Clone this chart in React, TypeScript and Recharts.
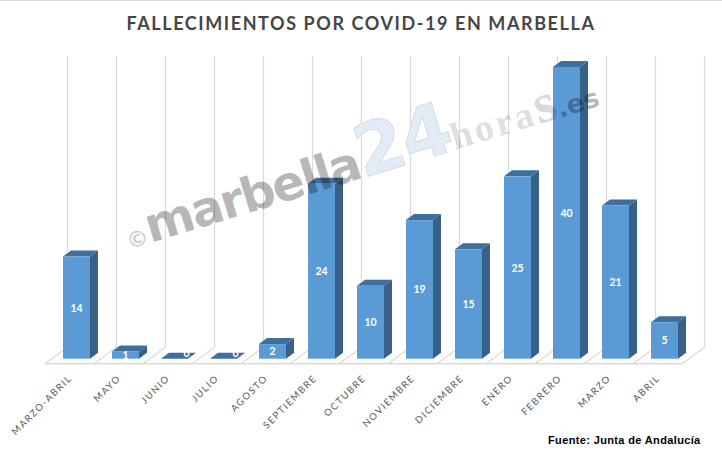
import { BarChart, Bar, XAxis, YAxis, LabelList } from 'recharts';

const categories = ['MARZO-ABRIL', 'MAYO', 'JUNIO', 'JULIO', 'AGOSTO', 'SEPTIEMBRE', 'OCTUBRE', 'NOVIEMBRE', 'DICIEMBRE', 'ENERO', 'FEBRERO', 'MARZO', 'ABRIL'];
const deaths = [14, 1, 0, 0, 2, 24, 10, 19, 15, 25, 40, 21, 5];

const chartData = categories.map((month, i) => ({ month, deaths: deaths[i] }));

const FRONT = '#5b9bd5';
const SIDE = '#376189';
const TOP = '#3e6f9e';
const WALL = '#d9d9d9';
const DEPTH_X = 8;
const DEPTH_Y = 6;

// columna 3D: cara frontal, lateral y superior
const Bar3D = ({ x, y, width, height }: any) => (
  <g>
    <polygon
      points={`${x + width},${y} ${x + width + DEPTH_X},${y - DEPTH_Y} ${x + width + DEPTH_X},${y + height - DEPTH_Y} ${x + width},${y + height}`}
      fill={SIDE}
    />
    <polygon
      points={`${x},${y} ${x + DEPTH_X},${y - DEPTH_Y} ${x + width + DEPTH_X},${y - DEPTH_Y} ${x + width},${y}`}
      fill={TOP}
    />
    <rect x={x} y={y} width={width} height={height} fill={FRONT} />
  </g>
);

// pared y suelo de cada categoría, pintados detrás de las barras
const Wall = ({ x, y, height, index }: any) => {
  const base = y + height;
  const lastOne = index === categories.length - 1;
  const lineProps = { stroke: WALL, strokeWidth: 1.2 };
  return (
    <g>
      <line x1={x + 4.5} x2={x + 4.5} y1={y} y2={base - 11.5} {...lineProps} />
      <line x1={x - 18} x2={x + 4.5} y1={base + 5} y2={base - 11.5} {...lineProps} />
      <line x1={x - 18} x2={x + 31} y1={base + 5} y2={base + 5} stroke={WALL} strokeWidth={1.6} />
      {lastOne && (
        <>
          <line x1={x + 53.5} x2={x + 53.5} y1={y} y2={base - 11.5} {...lineProps} />
          <line x1={x + 31} x2={x + 53.5} y1={base + 5} y2={base - 11.5} {...lineProps} />
        </>
      )}
    </g>
  );
};

const MonthTick = ({ x, y, payload }: any) => (
  <text
    x={x - 4}
    y={y + 12}
    transform={`rotate(-45 ${x - 4} ${y + 12})`}
    textAnchor="end"
    fontFamily="Lato"
    fontSize={9.5}
    letterSpacing={1.5}
    fill="#595959"
  >
    {payload.value}
  </text>
);

const ValueLabel = ({ x, y, width, height, value }: any) => {
  const isZero = value === 0;
  return (
    <text
      x={x + width / 2 + (isZero ? 12 : 0)}
      y={y + height / 2 + (isZero ? -5.5 : 0)}
      textAnchor="middle"
      dominantBaseline="central"
      fontFamily="Lato"
      fontWeight={700}
      fontSize={10.5}
      fill="#ffffff"
    >
      {value}
    </text>
  );
};

export default function App() {
  return (
    <div style={{ position: 'absolute', left: 0, top: 0, width: 722, height: 463, background: '#fff', overflow: 'hidden' }}>
      <div style={{ position: 'absolute', left: 0, top: 0, width: 722, height: 1, background: '#dcdcdc' }} />
      <div
        style={{
          position: 'absolute',
          left: 0,
          width: 722,
          top: 12,
          textAlign: 'center',
          fontFamily: 'Lato',
          fontWeight: 700,
          fontSize: 18,
          letterSpacing: 1.58,
          color: '#454545',
        }}
      >
        FALLECIMIENTOS POR COVID-19 EN MARBELLA
      </div>

      <BarChart
        width={722}
        height={463}
        data={chartData}
        margin={{ top: 56, right: 33, bottom: 14.3, left: 52 }}
        barSize={27}
      >
        <XAxis dataKey="month" interval={0} height={90} tickLine={false} axisLine={false} tick={<MonthTick />} />
        <YAxis hide domain={[0, 41.5]} />
        <Bar dataKey="deaths" isAnimationActive={false} background={<Wall />} shape={<Bar3D />}>
          <LabelList dataKey="deaths" content={<ValueLabel />} />
        </Bar>
      </BarChart>

      {/* marca de agua encima del gráfico */}
      <svg width={722} height={463} style={{ position: 'absolute', left: 0, top: 0, pointerEvents: 'none' }}>
        <g transform="rotate(-17 130 245)">
          <text x={128} y={249} fontFamily="DejaVu Sans" fontWeight={700}>
            <tspan fontSize={22} fill="#000" fillOpacity={0.2}>©</tspan>
            <tspan fontSize={48} letterSpacing={-2} fill="#000" fillOpacity={0.28}>marbella</tspan>
            <tspan fontSize={72} letterSpacing={-2} fill="#e3ecf6" stroke="#cfd8e2" strokeWidth={0.8}>24</tspan>
            <tspan fontSize={38} fontFamily="Liberation Serif" letterSpacing={3} fill="#000" fillOpacity={0.15}>hora</tspan>
            <tspan fontSize={56} fontFamily="Liberation Serif" fill="#000" fillOpacity={0.15}>s</tspan>
            <tspan fontSize={26} fill="#000" fillOpacity={0.3}>.es</tspan>
          </text>
        </g>
      </svg>

      <div
        style={{
          position: 'absolute',
          left: 548,
          top: 434,
          fontFamily: 'Liberation Sans',
          fontWeight: 700,
          fontSize: 11,
          letterSpacing: 0.36,
          color: '#000',
          whiteSpace: 'nowrap',
        }}
      >
        Fuente: Junta de Andalucía
      </div>
    </div>
  );
}
